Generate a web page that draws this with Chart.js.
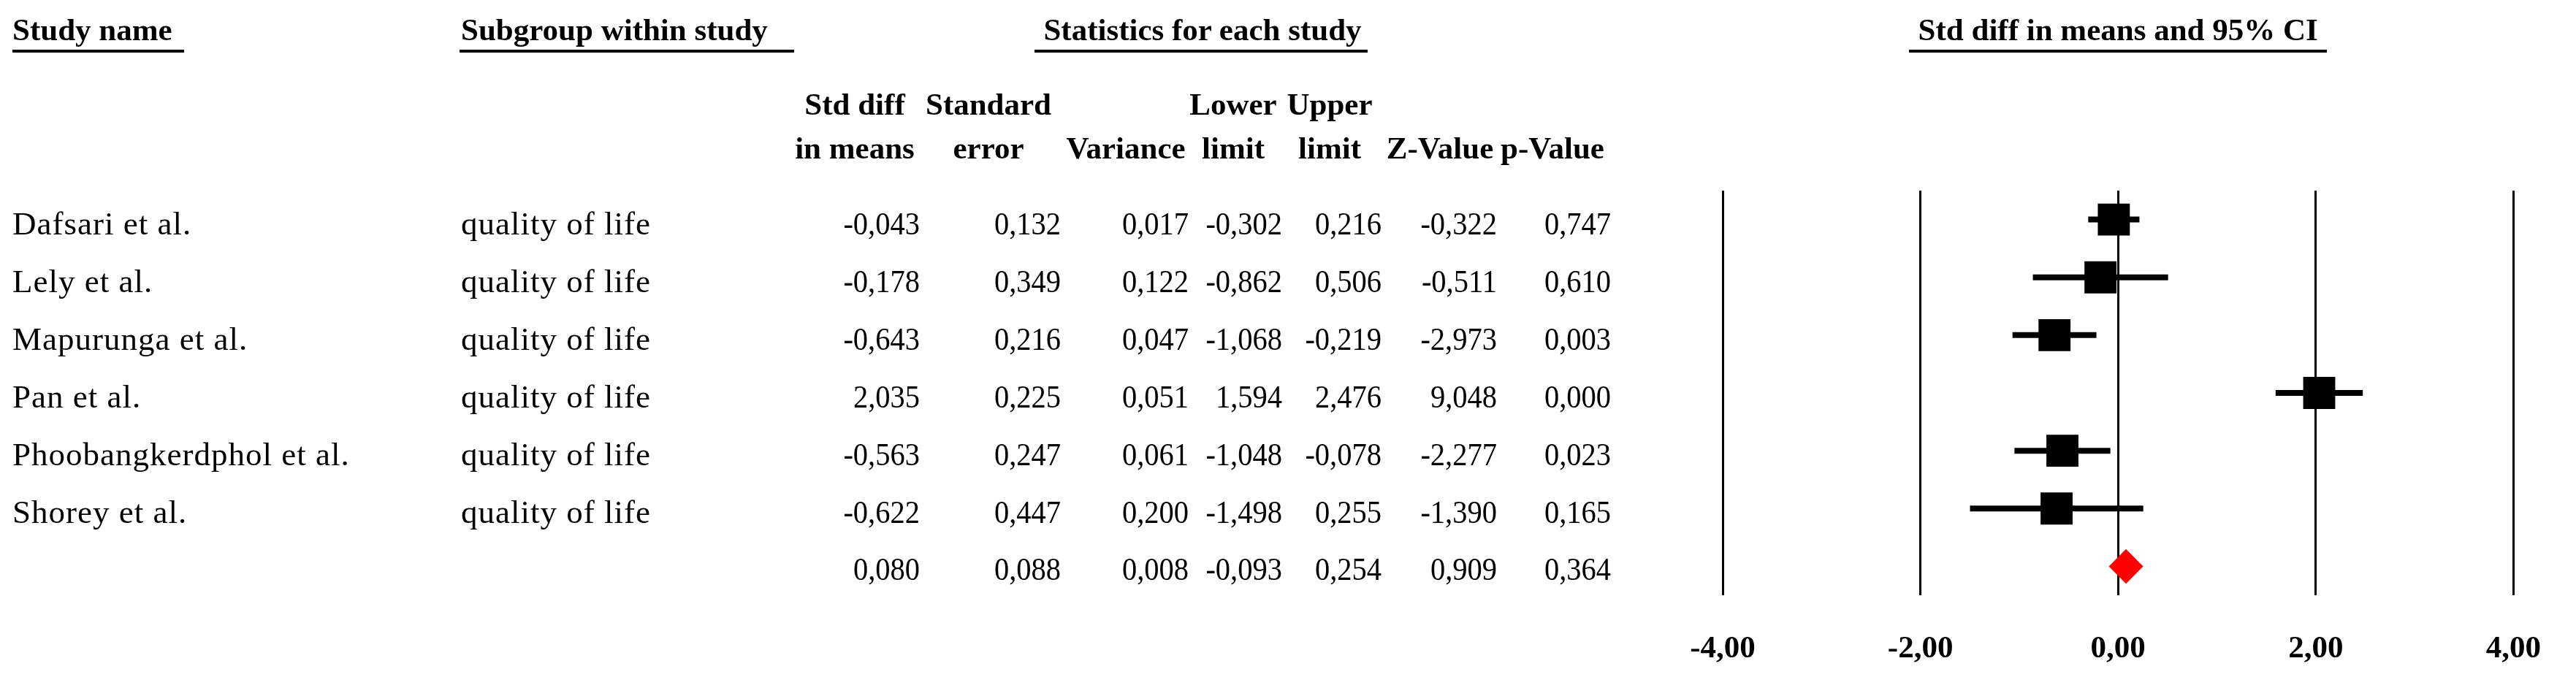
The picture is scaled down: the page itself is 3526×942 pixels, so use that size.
<!DOCTYPE html>
<html>
<head>
<meta charset="utf-8">
<script src="https://cdn.jsdelivr.net/npm/chart.js@4.4.1/dist/chart.umd.min.js"></script>
<style>
html, body { margin: 0; background: #fff; }
#wrap { position: relative; width: 3526px; height: 942px; overflow: hidden; background: #fff; }
#forest { position: absolute; left: 0; top: 0; }
.t { position: absolute; white-space: nowrap; color: #000; line-height: 1; font-family: "Liberation Serif", "Times New Roman", serif; }
.t span { display: inline-block; }
.h { font-weight: bold; font-size: 43px; }
.r { font-size: 45px; letter-spacing: 1px; }
.n { font-size: 45px; }
.n span { transform: scaleX(0.9); transform-origin: right center; }
.ul { position: absolute; height: 4px; background: #000; }
</style>
</head>
<body>
<div id="wrap"><canvas id="forest" width="3526" height="942"></canvas></div>
<script>
// forest plot - std diff in means, quality of life
const studies = ["Dafsari et al.", "Lely et al.", "Mapurunga et al.", "Pan et al.", "Phoobangkerdphol et al.", "Shorey et al."];
const subgroups = ["quality of life", "quality of life", "quality of life", "quality of life", "quality of life", "quality of life"];
const stdDiff = [-0.043, -0.178, -0.643, 2.035, -0.563, -0.622];
const stdErr = [0.132, 0.349, 0.216, 0.225, 0.247, 0.447];
const variance = [0.017, 0.122, 0.047, 0.051, 0.061, 0.200];
const lowerLimit = [-0.302, -0.862, -1.068, 1.594, -1.048, -1.498];
const upperLimit = [0.216, 0.506, -0.219, 2.476, -0.078, 0.255];
const zValue = [-0.322, -0.511, -2.973, 9.048, -2.277, -1.390];
const pValue = [0.747, 0.610, 0.003, 0.000, 0.023, 0.165];
// pooled row: std diff, se, variance, lower, upper, z, p
const overall = [0.080, 0.088, 0.008, -0.093, 0.254, 0.909, 0.364];
const xTicks = [-4, -2, 0, 2, 4];
const colHead1 = ["Std diff", "Standard", "", "Lower", "Upper", "", ""];
const colHead2 = ["in means", "error", "Variance", "limit", "limit", "Z-Value", "p-Value"];

// layout of the table part (pixels)
const colRight = [1259, 1452, 1627, 1755, 1891, 2049, 2205];
const colCenter = [1170, 1353, 1541, 1688, 1820, 1971, 2125];
const nameX = 17, subX = 631;
const diamondHalf = 0.3;

const fmt = v => v.toFixed(3).replace('.', ',');
const summaryRow = studies.length;

const ciSets = studies.map((s, i) => ({
    type: 'scatter', showLine: true, order: 2,
    data: [{ x: lowerLimit[i], y: i }, { x: upperLimit[i], y: i }],
    borderColor: '#000', borderWidth: 8, borderCapStyle: 'butt', pointRadius: 0
}));

const chart = new Chart(document.getElementById('forest'), {
    type: 'scatter',
    data: {
        datasets: [
            {
                order: 0,
                data: stdDiff.map((v, i) => ({ x: v, y: i })),
                pointStyle: 'rect', pointRadius: 31, backgroundColor: '#000', borderWidth: 0
            },
            {
                order: 0, showLine: true, fill: 'shape',
                data: [
                    { x: overall[3], y: summaryRow },
                    { x: overall[0], y: summaryRow - diamondHalf },
                    { x: overall[4], y: summaryRow },
                    { x: overall[0], y: summaryRow + diamondHalf },
                    { x: overall[3], y: summaryRow }
                ],
                borderWidth: 0, borderColor: '#ff0000', backgroundColor: '#ff0000', pointRadius: 0
            },
            ...ciSets
        ]
    },
    options: {
        responsive: false, animation: false, devicePixelRatio: 1, events: [],
        layout: { padding: { left: 2358, right: 64, top: 261, bottom: 31 } },
        plugins: { legend: { display: false }, tooltip: { enabled: false } },
        scales: {
            x: {
                type: 'linear', min: -4, max: 4, position: 'bottom',
                afterBuildTicks: s => { s.ticks = xTicks.map(v => ({ value: v })); },
                afterFit: s => { s.height = 96; },
                ticks: {
                    callback: v => v.toFixed(2).replace('.', ','),
                    color: '#000', padding: 48,
                    font: { family: '"Liberation Serif", serif', size: 43, weight: 'bold' }
                },
                grid: { color: '#000', lineWidth: 3, drawTicks: false },
                border: { display: false }
            },
            y: { type: 'linear', min: -0.5, max: 6.5, reverse: true, display: false }
        }
    }
});

// table text, placed on the rows of the chart's y scale
const wrap = document.getElementById('wrap');
function put(text, x, y, cls, align) {
    const d = document.createElement('div');
    d.className = 't ' + cls;
    const sp = document.createElement('span');
    sp.textContent = text;
    d.appendChild(sp);
    d.style.left = x + 'px';
    d.style.top = y + 'px';
    d.style.transform = align === 'right' ? 'translate(-100%,-50%)' : align === 'center' ? 'translate(-50%,-50%)' : 'translateY(-50%)';
    wrap.appendChild(d);
}
function underline(x1, x2) {
    const d = document.createElement('div');
    d.className = 'ul';
    d.style.left = x1 + 'px';
    d.style.width = (x2 - x1) + 'px';
    d.style.top = '68px';
    wrap.appendChild(d);
}

const area = chart.chartArea;
const midX = (area.left + area.right) / 2;
put("Study name", nameX, 40, 'h');
underline(17, 252);
put("Subgroup within study", subX, 40, 'h');
underline(629, 1087);
put("Statistics for each study", 1646, 40, 'h', 'center');
underline(1416, 1872);
put("Std diff in means and 95% CI", midX, 40, 'h', 'center');
underline(midX - 286, midX + 286);

colHead1.forEach((t, c) => { if (t) put(t, colCenter[c], 142, 'h', 'center'); });
colHead2.forEach((t, c) => put(t, colCenter[c], 202, 'h', 'center'));

const cols = [stdDiff, stdErr, variance, lowerLimit, upperLimit, zValue, pValue];
const yScale = chart.scales.y;
studies.forEach((s, i) => {
    const y = yScale.getPixelForValue(i) + 5;
    put(s, nameX, y, 'r');
    put(subgroups[i], subX, y, 'r');
    cols.forEach((col, c) => put(fmt(col[i]), colRight[c], y, 'n', 'right'));
});
const ySum = yScale.getPixelForValue(summaryRow) + 4;
overall.forEach((v, c) => put(fmt(v), colRight[c], ySum, 'n', 'right'));
</script>
</body>
</html>
